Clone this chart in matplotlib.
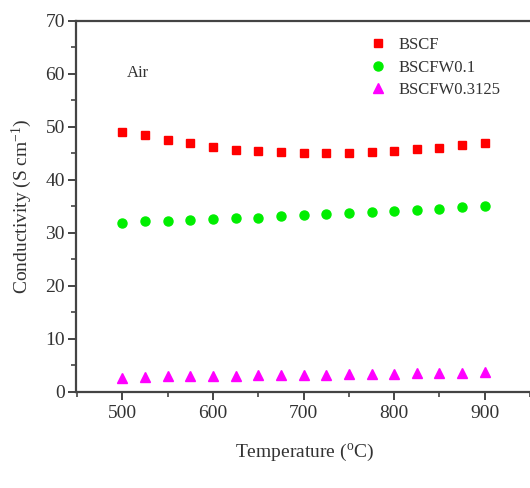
import matplotlib.pyplot as plt
from matplotlib.ticker import MultipleLocator

plt.rcParams['font.family'] = ['Liberation Serif', 'DejaVu Serif']
plt.rcParams['mathtext.fontset'] = 'custom'
plt.rcParams['mathtext.rm'] = 'Liberation Serif'

temperature = [500, 525, 550, 575, 600, 625, 650, 675, 700, 725, 750, 775, 800, 825, 850, 875, 900]
bscf = [49.1, 48.4, 47.6, 46.9, 46.3, 45.7, 45.5, 45.2, 45.0, 45.0, 45.1, 45.3, 45.5, 45.8, 46.1, 46.5, 46.9]
bscfw01 = [31.9, 32.2, 32.3, 32.5, 32.6, 32.8, 32.9, 33.1, 33.3, 33.6, 33.8, 34.0, 34.2, 34.3, 34.5, 34.8, 35.1]
bscfw03125 = [2.7, 2.8, 2.9, 2.9, 3.0, 3.0, 3.1, 3.1, 3.2, 3.2, 3.3, 3.4, 3.4, 3.5, 3.5, 3.6, 3.7]

fig = plt.figure(figsize=(5.3, 4.88), dpi=100)
# the frame runs past the right edge, so its right spine is clipped away
ax = fig.add_axes([0.1434, 0.197, 0.862, 0.760])

ax.plot(temperature, bscf, 's', color='#ff0000', markersize=5.5, label='BSCF')
ax.plot(temperature, bscfw01, 'o', color='#00ee00', markersize=6.5, label='BSCFW0.1')
ax.plot(temperature, bscfw03125, '^', color='#ff00ff', markersize=6.5, label='BSCFW0.3125')

ax.set_xlim(449, 953)
ax.set_ylim(0, 70)
ax.xaxis.set_major_locator(MultipleLocator(100))
ax.xaxis.set_minor_locator(MultipleLocator(50))
ax.yaxis.set_major_locator(MultipleLocator(10))
ax.yaxis.set_minor_locator(MultipleLocator(5))

for side in ['left', 'bottom', 'top', 'right']:
    ax.spines[side].set_color('#444444')
    ax.spines[side].set_linewidth(1.6)

ax.tick_params(which='major', direction='out', length=6, width=1.4, color='#444444',
               labelsize=14, labelcolor='#333333', top=False, right=False)
ax.tick_params(axis='y', which='major', pad=2)
ax.tick_params(which='minor', direction='out', length=3.5, width=1.2, color='#444444',
               top=False, right=False)

ax.set_xlabel('Temperature ($\\mathrm{^{o}}$C)', fontsize=14, color='#333333', labelpad=14)
ax.set_ylabel('Conductivity (S cm$\\mathrm{^{-1}}$)', fontsize=14, color='#333333', labelpad=8)

ax.text(505, 60.2, 'Air', fontsize=12, color='#333333', va='center', ha='left')

ax.legend(loc='upper left', bbox_to_anchor=(0.625, 0.975), frameon=False, fontsize=12,
          handletextpad=0.6, labelspacing=0.4, borderaxespad=0,
          labelcolor='#333333', handlelength=1.2)

fig.savefig('out.png', dpi=100)
